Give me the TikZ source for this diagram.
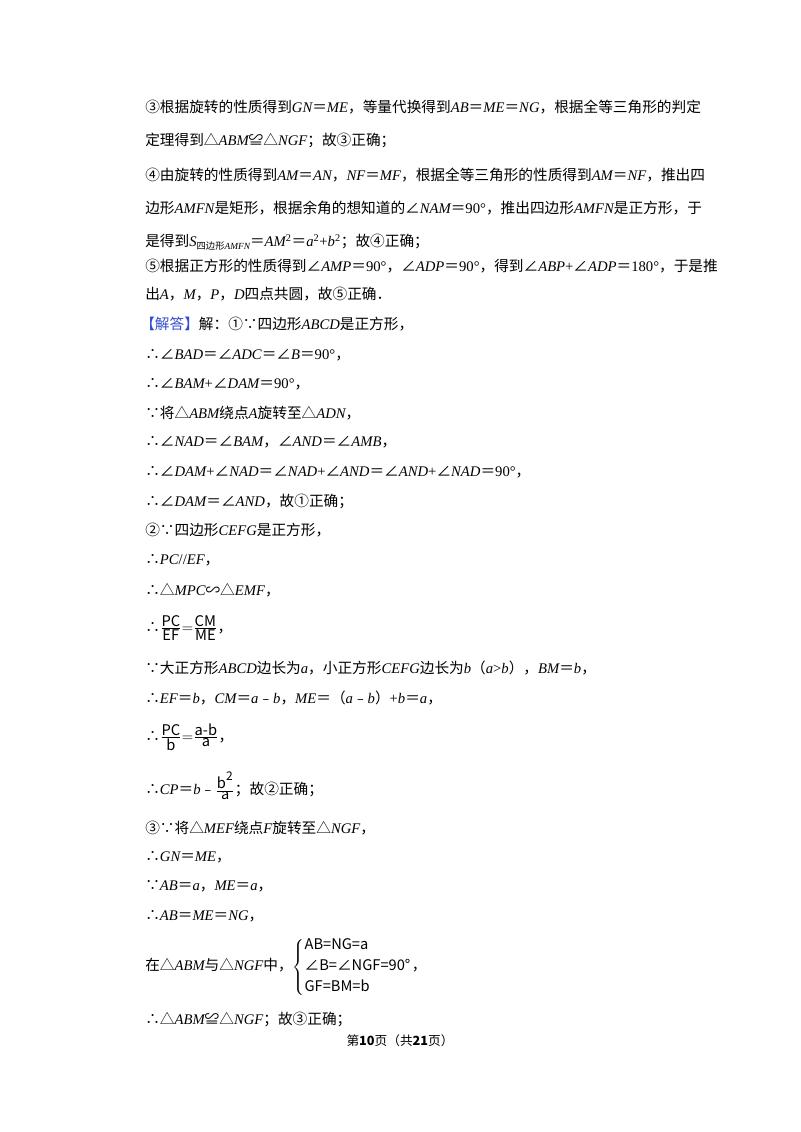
\documentclass[tikz,border=0pt]{standalone}
\usepackage{fontspec}
\setmainfont{Noto Sans CJK SC}
\newfontfamily\lat{Liberation Serif}
\newcommand\E[1]{{\lat\itshape #1}}
\newcommand\R[1]{{\lat #1}}
\newcommand\Q{＝}
\begin{document}
\begin{tikzpicture}[x=0.75pt,y=0.75pt,
  ln/.style={anchor=west,inner sep=0pt,font=\fontsize{11}{13}\selectfont}]
\useasboundingbox (0,0) rectangle (800,-1132);
\node[ln] (l1) at (145,-107) {③根据旋转的性质得到\E{GN}\Q\E{ME}，等量代换得到\E{AB}\Q\E{ME}\Q\E{NG}，根据全等三角形的判定};
\node[ln] (l2) at (145,-140) {定理得到△\E{ABM}≌△\E{NGF}；故③正确；};
\node[ln] (l3) at (145,-175) {④由旋转的性质得到\E{AM}\Q\E{AN}，\E{NF}\Q\E{MF}，根据全等三角形的性质得到\E{AM}\Q\E{NF}，推出四};
\node[ln] (l4) at (145,-208) {边形\E{AMFN}是矩形，根据余角的想知道的∠\E{NAM}\Q\R{90°}，推出四边形\E{AMFN}是正方形，于};
\node[ln] (l5) at (145,-242) {是得到\E{S}\raisebox{-2pt}{\scriptsize 四边形\E{AMFN}}\Q\E{AM}\textsuperscript{\R{2}}\Q\E{a}\textsuperscript{\R{2}}\R{+}\E{b}\textsuperscript{\R{2}}；故④正确；};
\node[ln] (l6) at (145,-266) {⑤根据正方形的性质得到∠\E{AMP}\Q\R{90°}，∠\E{ADP}\Q\R{90°}，得到∠\E{ABP}\R{+}∠\E{ADP}\Q\R{180°}，于是推};
\node[ln] (l7) at (145,-294) {出\E{A}，\E{M}，\E{P}，\E{D}四点共圆，故⑤正确．};
\node[ln] (l8) at (140,-324) {{\color[rgb]{0.2,0.3,0.8}【解答】}解：①∵四边形\E{ABCD}是正方形，};
\node[ln] (l9) at (145,-355) {∴∠\E{BAD}\Q∠\E{ADC}\Q∠\E{B}\Q\R{90°}，};
\node[ln] (l10) at (145,-384) {∴∠\E{BAM}\R{+}∠\E{DAM}\Q\R{90°}，};
\node[ln] (l11) at (145,-413) {∵将△\E{ABM}绕点\E{A}旋转至△\E{ADN}，};
\node[ln] (l12) at (145,-442) {∴∠\E{NAD}\Q∠\E{BAM}，∠\E{AND}\Q∠\E{AMB}，};
\node[ln] (l13) at (145,-472) {∴∠\E{DAM}\R{+}∠\E{NAD}\Q∠\E{NAD}\R{+}∠\E{AND}\Q∠\E{AND}\R{+}∠\E{NAD}\Q\R{90°}，};
\node[ln] (l14) at (145,-501) {∴∠\E{DAM}\Q∠\E{AND}，故①正确；};
\node[ln] (l15) at (145,-530) {②∵四边形\E{CEFG}是正方形，};
\node[ln] (l16) at (145,-560) {∴\E{PC}\R{//}\E{EF}，};
\node[ln] (l17) at (145,-590) {∴△\E{MPC}∽△\E{EMF}，};
\node[ln] (l18) at (145,-628) {∴$\frac{\mbox{PC}}{\mbox{EF}}{=}\frac{\mbox{CM}}{\mbox{ME}}$，};
\node[ln] (l19) at (145,-668) {∵大正方形\E{ABCD}边长为\E{a}，小正方形\E{CEFG}边长为\E{b}（\E{a}\R{>}\E{b}），\E{BM}\Q\E{b}，};
\node[ln] (l20) at (145,-698) {∴\E{EF}\Q\E{b}，\E{CM}\Q\E{a}﹣\E{b}，\E{ME}\Q（\E{a}﹣\E{b}）\R{+}\E{b}\Q\E{a}，};
\node[ln] (l21) at (145,-737) {∴$\frac{\mbox{PC}}{\mbox{b}}{=}\frac{\mbox{a-b}}{\mbox{a}}$，};
\node[ln] (l22) at (145,-786) {∴\E{CP}\Q\E{b}﹣$\frac{\mbox{b}^{\mbox{\small 2}}}{\mbox{a}}$；故②正确；};
\node[ln] (l23) at (145,-828) {③∵将△\E{MEF}绕点\E{F}旋转至△\E{NGF}，};
\node[ln] (l24) at (145,-857) {∴\E{GN}\Q\E{ME}，};
\node[ln] (l25) at (145,-886) {∵\E{AB}\Q\E{a}，\E{ME}\Q\E{a}，};
\node[ln] (l26) at (145,-916) {∴\E{AB}\Q\E{ME}\Q\E{NG}，};
\node[ln] (l27) at (145,-967) {在△\E{ABM}与△\E{NGF}中，$\left\{\begin{array}{@{}l@{}}\mbox{AB=NG=a}\\[3pt] \mbox{∠B=∠NGF=90°}\\[3pt] \mbox{GF=BM=b}\end{array}\right.$，};
\node[ln] (l28) at (145,-1019) {∴△\E{ABM}≌△\E{NGF}；故③正确；};
\node[inner sep=0pt,font=\fontsize{9.5}{11}\selectfont] (ft) at (400,-1041) {第\textbf{10}页（共\textbf{21}页）};
\end{tikzpicture}
\end{document}
